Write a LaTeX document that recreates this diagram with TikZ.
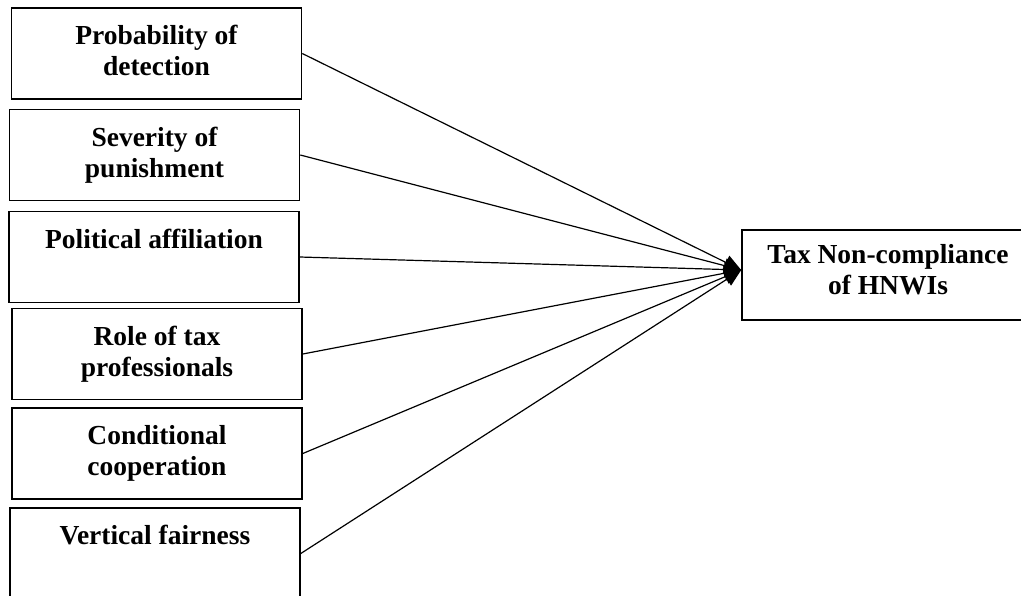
\documentclass[tikz,border=0pt]{standalone}
\usepackage{fontspec}
\setmainfont{Liberation Serif}
\usepackage{tikz}
\usetikzlibrary{arrows.meta,positioning,calc}
\newcommand{\boxtext}[2][56pt]{\parbox[c][#1][t]{270pt}{\centering #2}}

\begin{document}
\begin{tikzpicture}[
  x=1pt,y=-1pt,
  factor/.style={draw, line width=1.6pt, minimum width=290pt, minimum height=91pt, inner sep=0pt, font=\fontsize{27.5}{31}\selectfont\bfseries},
  arr/.style={-{Triangle[length=17pt,width=15pt]}, line width=1.2pt}
]
\useasboundingbox (0,0) rectangle (1021,595);
\node[factor] (prob) at (156.5,53.5) {\boxtext{Probability of\\detection}};
\node[factor] (severity) at (154.5,155) {\boxtext{Severity of\\punishment}};
\node[factor] (political) at (154,257) {\boxtext{Political affiliation}};
\node[factor] (taxpro) at (157,354) {\boxtext{Role of tax\\professionals}};
\node[factor] (condcoop) at (157,453.5) {\boxtext{Conditional\\cooperation}};
\node[factor] (vertfair) at (155,553.5) {\boxtext{Vertical fairness}};
\node[factor, minimum width=292pt, minimum height=90pt] (noncomp) at (888,275) {\boxtext[61pt]{Tax Non-compliance\\of HNWIs}};
\coordinate (hub) at ([yshift=5pt]noncomp.west);
\foreach \x in {prob,severity,political,taxpro,condcoop,vertfair}{\draw[arr] (\x.east) -- (hub);}
\end{tikzpicture}
\end{document}
